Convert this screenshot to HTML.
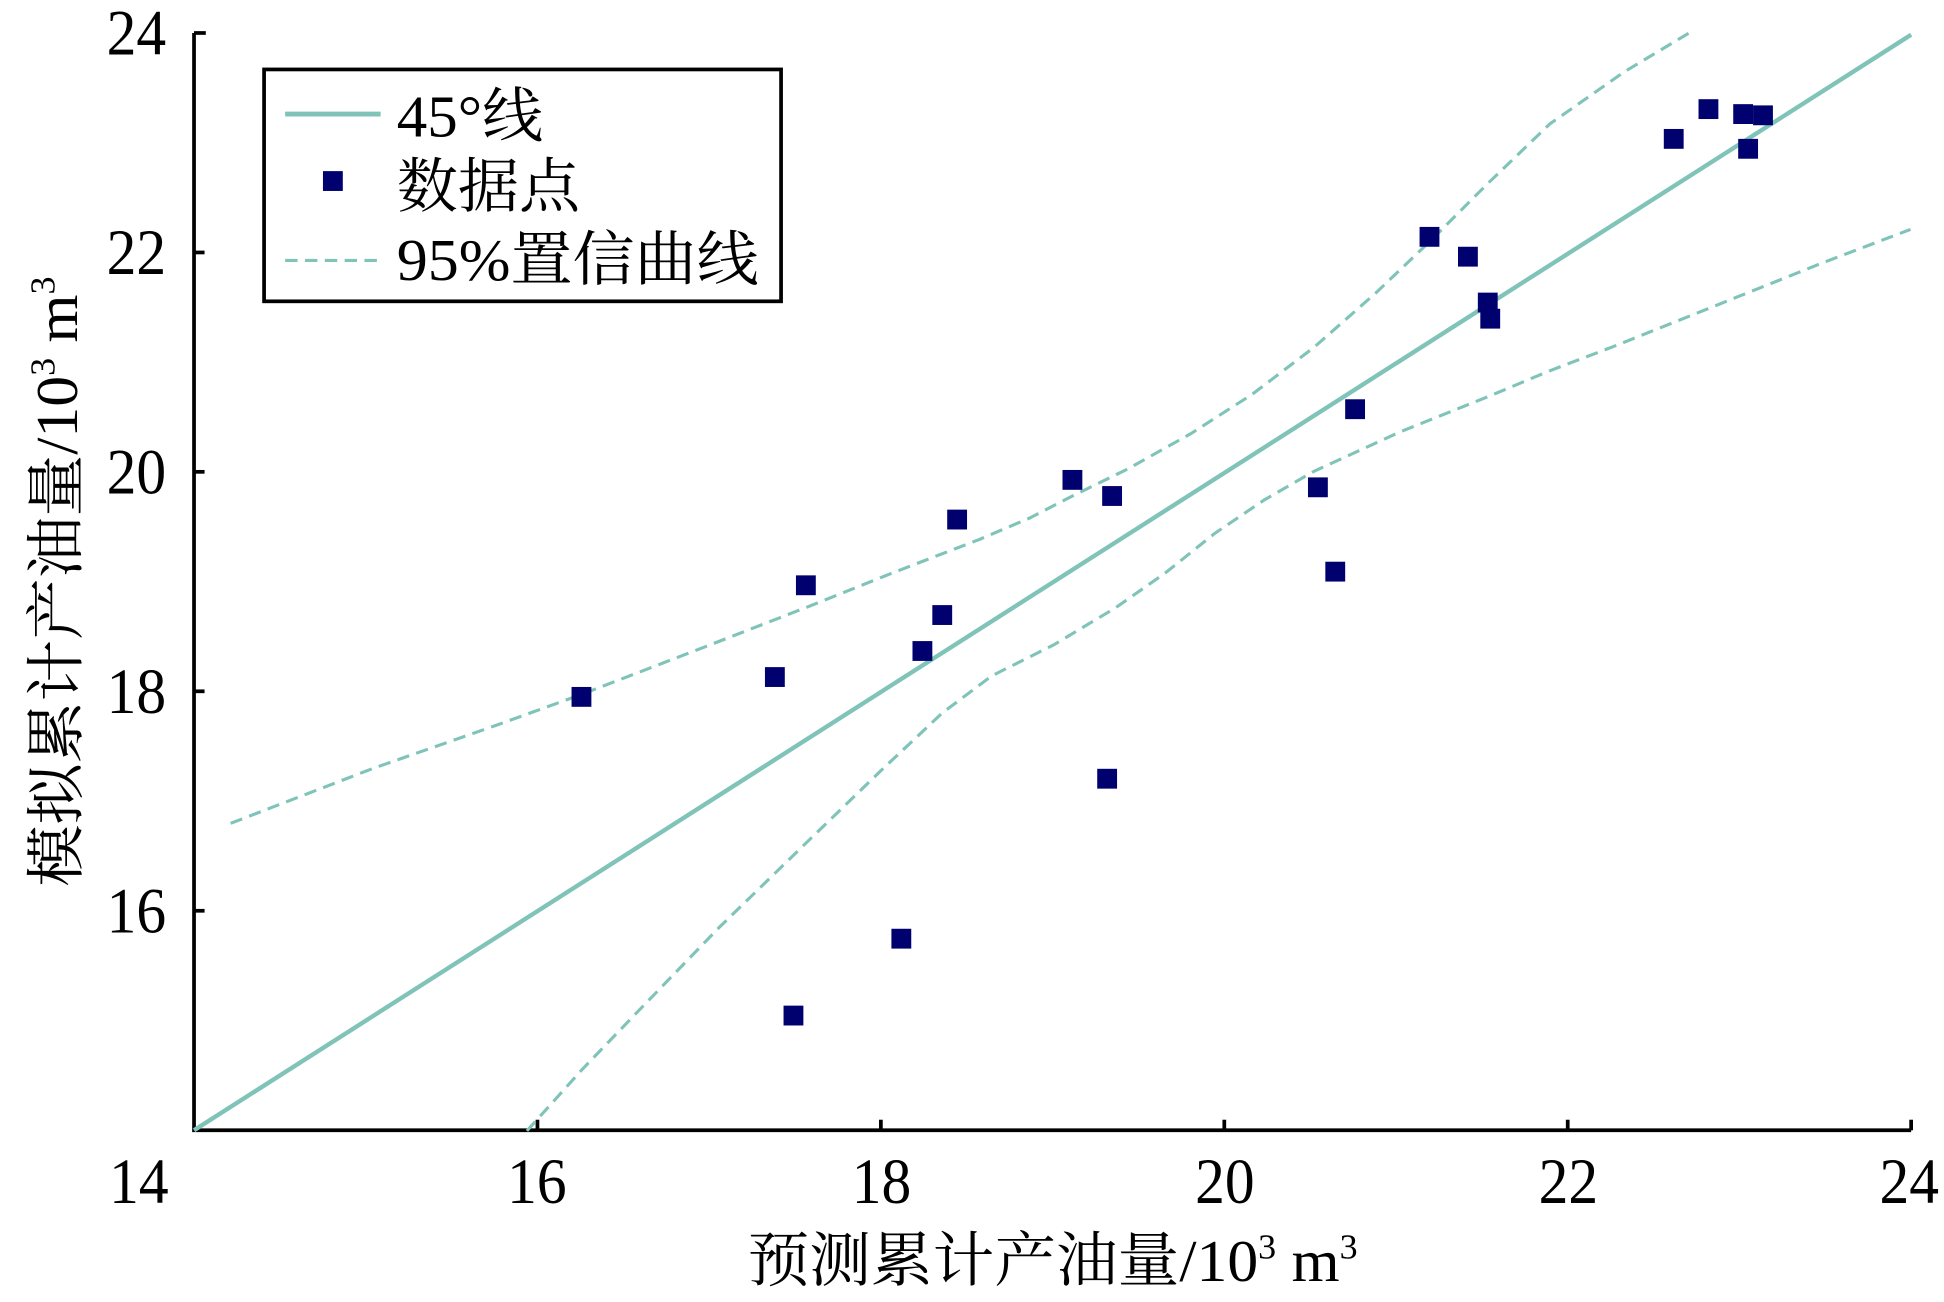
<!DOCTYPE html>
<html><head><meta charset="utf-8"><style>html,body{margin:0;padding:0;background:#fff}svg{display:block}text{font-family:"Liberation Serif","Noto Serif CJK SC",serif}</style></head>
<body>
<svg width="1944" height="1302" viewBox="0 0 1568 1050" preserveAspectRatio="none" xmlns="http://www.w3.org/2000/svg">
<rect width="1568" height="1050" fill="#fff"/>
<g stroke="#000" stroke-width="3" fill="none">
<polyline points="156.5,26.6 156.5,911.5 1541.5,911.5"/>
<line x1="156.5" y1="26.6" x2="166" y2="26.6"/>
<line x1="156.5" y1="203.6" x2="165" y2="203.6"/>
<line x1="156.5" y1="380.5" x2="165" y2="380.5"/>
<line x1="156.5" y1="557.5" x2="165" y2="557.5"/>
<line x1="156.5" y1="734.5" x2="165" y2="734.5"/>
<line x1="433.5" y1="911.5" x2="433.5" y2="903"/>
<line x1="710.5" y1="911.5" x2="710.5" y2="903"/>
<line x1="987.5" y1="911.5" x2="987.5" y2="903"/>
<line x1="1264.5" y1="911.5" x2="1264.5" y2="903"/>
<line x1="1541.5" y1="911.5" x2="1541.5" y2="903"/>
</g>
<g font-size="52" fill="#000">
<g text-anchor="end">
<text x="134" y="44" textLength="48" lengthAdjust="spacingAndGlyphs">24</text>
<text x="134" y="221" textLength="48" lengthAdjust="spacingAndGlyphs">22</text>
<text x="134" y="398" textLength="48" lengthAdjust="spacingAndGlyphs">20</text>
<text x="134" y="575" textLength="48" lengthAdjust="spacingAndGlyphs">18</text>
<text x="134" y="752" textLength="48" lengthAdjust="spacingAndGlyphs">16</text>
</g>
<g text-anchor="middle">
<text x="112" y="970" textLength="48" lengthAdjust="spacingAndGlyphs">14</text>
<text x="433" y="970" textLength="48" lengthAdjust="spacingAndGlyphs">16</text>
<text x="711" y="970" textLength="48" lengthAdjust="spacingAndGlyphs">18</text>
<text x="988" y="970" textLength="48" lengthAdjust="spacingAndGlyphs">20</text>
<text x="1265" y="970" textLength="48" lengthAdjust="spacingAndGlyphs">22</text>
<text x="1540" y="970" textLength="48" lengthAdjust="spacingAndGlyphs">24</text>
</g>
</g>
<text x="603" y="1033" font-size="48" textLength="492" lengthAdjust="spacingAndGlyphs">预测累计产油量/10<tspan font-size="28" dy="-18">3</tspan><tspan dy="18"> m</tspan><tspan font-size="28" dy="-18">3</tspan></text>
<text transform="translate(62,715) rotate(-90)" font-size="48" textLength="492" lengthAdjust="spacingAndGlyphs">模拟累计产油量/10<tspan font-size="28" dy="-18">3</tspan><tspan dy="18"> m</tspan><tspan font-size="28" dy="-18">3</tspan></text>
<line x1="156.5" y1="911.5" x2="1541.5" y2="28" stroke="#7fc3b9" stroke-width="3.5"/>
<g fill="none" stroke="#7fc3b9" stroke-width="2.5" stroke-dasharray="10,6">
<polyline points="186,664 300,620 400,585 469,560 560,525 650,490 720,462 790,435 830,418 865,400 910,378 960,350 1010,318 1060,280 1110,236 1153,195 1200,148 1250,100 1310,58 1365,25"/>
<polyline points="425,912 470,862 520,810 580,748 650,680 710,622 760,575 800,545 850,520 900,490 940,462 980,430 1020,403 1060,380 1130,348 1200,320 1250,299 1300,280 1350,260 1400,240 1470,212 1541,185"/>
</g>
<g fill="#00006e">
<rect x="461" y="554" width="16" height="16"/>
<rect x="617" y="538" width="16" height="16"/>
<rect x="642" y="464" width="16" height="16"/>
<rect x="632" y="811" width="16" height="16"/>
<rect x="719" y="749" width="16" height="16"/>
<rect x="736" y="517" width="16" height="16"/>
<rect x="752" y="488" width="16" height="16"/>
<rect x="764" y="411" width="16" height="16"/>
<rect x="857" y="379" width="16" height="16"/>
<rect x="885" y="620" width="16" height="16"/>
<rect x="889" y="392" width="16" height="16"/>
<rect x="1055" y="385" width="16" height="16"/>
<rect x="1069" y="453" width="16" height="16"/>
<rect x="1085" y="322" width="16" height="16"/>
<rect x="1145" y="183" width="16" height="16"/>
<rect x="1176" y="199" width="16" height="16"/>
<rect x="1192" y="236" width="16" height="16"/>
<rect x="1194" y="249" width="16" height="16"/>
<rect x="1342" y="104" width="16" height="16"/>
<rect x="1370" y="80" width="16" height="16"/>
<rect x="1398" y="84" width="16" height="16"/>
<rect x="1402" y="112" width="16" height="16"/>
<rect x="1414" y="85" width="16" height="16"/>
</g>
<rect x="213" y="56" width="417" height="187" fill="#fff" stroke="#000" stroke-width="3"/>
<line x1="230" y1="92" x2="307" y2="92" stroke="#7fc3b9" stroke-width="4"/>
<rect x="260.5" y="138" width="16" height="16" fill="#00006e"/>
<line x1="230" y1="210" x2="307" y2="210" stroke="#7fc3b9" stroke-width="2.5" stroke-dasharray="10,6"/>
<g font-size="48" fill="#000">
<text x="320" y="110" textLength="118" lengthAdjust="spacingAndGlyphs">45°线</text>
<text x="320" y="167" textLength="148" lengthAdjust="spacingAndGlyphs">数据点</text>
<text x="320" y="226" textLength="292" lengthAdjust="spacingAndGlyphs">95%置信曲线</text>
</g>
</svg>
</body></html>
